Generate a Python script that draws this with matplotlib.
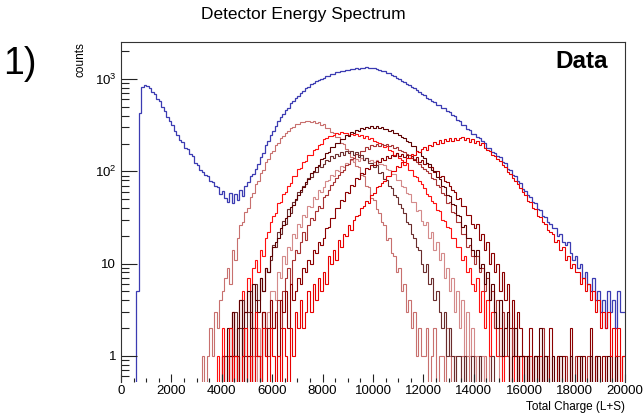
import numpy as np
import matplotlib
matplotlib.use("Agg")
import matplotlib.pyplot as plt
from matplotlib.ticker import FixedLocator, FixedFormatter, LogLocator, NullFormatter, MultipleLocator

plt.rcParams['font.family'] = ['Liberation Sans', 'DejaVu Sans']
plt.rcParams['mathtext.fontset'] = 'custom'
plt.rcParams['mathtext.rm'] = 'Liberation Sans'
plt.rcParams['mathtext.it'] = 'Liberation Sans:italic'

# ---------------- data ----------------
bin_edges = np.arange(0, 20001, 100)   # Total Charge bins (width 100)

blue_counts = [
    0,0,0,0,0,0,5,430,815,868,842,806,731,690,612,575,493,455,388,352,
    316,272,246,221,208,181,176,154,146,124,116,104,99,92,88,79,77,70,68,57,
    61,51,46,58,45,57,49,63,54,69,77,88,94,106,120,143,158,192,212,248,
    274,306,352,390,415,466,490,545,574,622,655,706,735,795,826,876,900,946,970,1006,
    1024,1066,1084,1126,1142,1178,1183,1218,1224,1246,1252,1278,1274,1305,1298,1326,1312,1334,1316,1302,
    1312,1284,1262,1236,1214,1176,1154,1104,1086,1036,1004,955,934,884,866,815,795,754,726,684,
    664,626,604,574,566,528,520,490,480,448,444,410,394,364,350,320,314,290,280,255,
    252,236,231,214,204,181,178,161,158,146,142,125,122,107,104,92,88,78,74,64,
    61,55,53,46,45,39,38,33,32,28,27,24,24,20,21,17,16,17,13,11,
    12,9,10,7,8,6,5,7,4,5,3,4,2,5,3,4,2,5,3,3,
]

rosy_counts = [
    0,0,0,0,0,0,0,0,0,0,0,0,0,0,0,0,0,0,0,0,
    0,0,0,0,0,0,0,0,0,0,0,0,1,0,1,2,1,3,2,4,
    5,7,9,6,14,11,19,26,28,36,40,52,58,72,78,96,104,126,135,158,
    168,192,203,228,240,262,274,296,300,322,328,342,338,352,348,344,350,336,338,318,
    326,296,291,266,263,238,233,204,199,176,168,144,139,115,111,91,88,69,67,51,
    49,39,35,28,26,18,19,13,12,8,9,5,6,3,4,2,3,1,2,1,
    1,2,0,1,2,0,1,1,0,2,1,0,1,0,0,1,0,1,0,0,
    1,0,0,0,1,0,0,0,0,0,0,0,0,0,0,0,0,0,0,0,
    0,0,0,0,0,0,0,0,0,0,0,0,0,0,0,0,0,0,0,0,
    0,0,0,0,0,0,0,0,0,0,0,0,0,0,0,0,0,0,0,0,
]

bright_counts = [
    0,0,0,0,0,0,0,0,0,0,0,0,0,0,0,0,0,0,0,0,
    0,0,0,0,0,0,0,0,0,0,0,0,0,0,0,0,0,0,1,0,
    2,1,1,0,3,1,2,4,5,3,7,5,9,11,8,14,12,19,22,28,
    33,35,45,46,57,59,69,74,88,90,106,108,127,130,151,152,170,176,194,199,
    222,230,240,244,250,262,254,266,258,262,250,256,248,252,240,246,232,240,222,228,
    214,208,202,196,184,186,172,168,152,156,140,134,118,122,104,102,90,86,78,72,
    66,57,54,48,45,38,37,30,29,25,24,19,19,15,15,11,12,8,9,6,
    5,7,3,5,2,4,1,3,2,1,2,0,1,1,0,2,0,1,0,1,
    0,0,1,0,0,0,1,0,0,0,0,0,0,0,0,0,0,0,0,0,
    0,0,0,0,0,0,0,0,0,0,0,0,0,0,0,0,0,0,0,0,
]

high_counts = [
    0,0,0,0,0,0,0,0,0,0,0,0,0,0,0,0,0,0,0,0,
    0,0,0,0,0,0,0,0,0,0,0,0,0,0,0,0,0,0,0,0,
    1,0,0,2,0,1,0,0,1,2,0,1,0,3,1,0,2,1,0,2,
    1,0,1,0,2,1,0,2,1,3,2,4,2,3,5,3,6,4,7,5,
    8,6,12,10,14,11,18,15,21,20,26,23,30,33,34,40,42,48,45,55,
    58,67,70,74,79,89,90,101,100,113,111,126,127,138,139,154,150,166,162,176,
    182,172,194,188,206,198,216,203,224,212,230,214,232,218,228,236,216,230,210,222,
    204,214,192,202,180,172,166,152,148,136,128,116,110,98,94,84,78,72,66,60,
    55,48,47,40,39,33,32,28,27,23,22,21,17,18,14,15,11,12,9,10,
    8,8,6,7,5,6,4,5,3,4,2,3,2,3,1,2,1,2,0,1,
]

maroon_counts = [
    0,0,0,0,0,0,0,0,0,0,0,0,0,0,0,0,0,0,0,0,
    0,0,0,0,0,0,0,0,0,0,0,0,0,0,0,0,0,0,0,0,
    1,0,2,1,3,1,2,4,1,3,5,2,6,4,3,7,5,9,8,12,
    15,17,19,24,26,31,33,41,43,50,55,62,68,77,83,95,100,112,118,135,
    140,158,160,182,184,204,203,226,224,246,244,264,260,280,276,292,285,301,294,306,
    296,308,291,299,288,290,276,278,262,260,250,238,231,214,210,190,186,168,163,146,
    140,124,120,104,101,86,83,69,67,55,54,44,43,34,33,25,26,19,19,14,
    12,14,9,10,6,8,4,6,3,2,4,1,2,3,0,1,2,0,1,1,
    0,1,0,0,1,0,2,0,1,0,0,1,0,0,1,0,0,0,1,0,
    0,0,1,0,0,0,1,0,0,1,0,0,0,1,0,0,1,0,0,0,
]

brown_counts = [
    0,0,0,0,0,0,0,0,0,0,0,0,0,0,0,0,0,0,0,0,
    0,0,0,0,0,0,0,0,0,0,0,0,0,0,0,0,0,0,0,0,
    0,1,0,2,1,3,0,2,4,1,3,5,2,6,4,7,5,9,8,11,
    16,15,22,21,29,27,39,35,47,49,59,60,70,72,84,86,99,98,113,112,
    120,134,130,146,138,154,146,161,150,166,158,168,152,162,144,152,134,140,122,124,
    110,116,95,99,82,80,69,66,55,52,44,40,35,28,27,21,19,15,14,10,
    8,10,6,7,4,5,3,2,3,1,2,1,0,1,1,0,1,0,0,1,
    0,0,1,0,0,0,0,1,0,0,0,0,0,0,0,0,0,0,0,0,
    0,0,0,0,0,0,0,0,0,0,0,0,0,0,0,0,0,0,0,0,
    0,0,0,0,0,0,0,0,0,0,0,0,0,0,0,0,0,0,0,0,
]

brickred_counts = [
    0,0,0,0,0,0,0,0,0,0,0,0,0,0,0,0,0,0,0,0,
    0,0,0,0,0,0,0,0,0,0,0,0,0,0,0,0,0,0,0,0,
    0,0,0,1,0,0,1,0,2,0,1,0,2,1,1,0,3,2,1,2,
    2,3,4,2,5,7,9,6,11,14,13,17,22,18,26,31,30,37,42,40,
    52,56,62,71,76,84,91,98,104,118,120,136,138,154,150,168,164,182,176,192,
    186,196,190,200,192,198,188,194,180,184,172,168,162,154,150,140,136,126,120,112,
    106,100,96,84,82,71,68,58,56,45,46,36,35,28,28,21,21,15,16,12,
    10,12,8,9,5,7,4,5,2,4,1,3,2,1,0,2,1,0,1,1,
    0,1,0,0,1,0,0,2,0,1,0,0,0,1,0,0,1,0,0,0,
    1,0,0,0,0,1,0,0,1,0,0,0,1,0,0,0,0,1,0,0,
]

pink_counts = [
    0,0,0,0,0,0,0,0,0,0,0,0,0,0,0,0,0,0,0,0,
    0,0,0,0,0,0,0,0,0,0,0,0,0,0,0,0,0,0,0,0,
    0,0,0,0,0,0,0,0,0,0,0,0,1,0,2,1,3,2,3,5,
    5,4,8,7,12,10,15,14,21,19,27,25,34,32,42,41,52,50,62,60,
    68,78,80,92,90,102,101,114,111,124,119,132,126,136,130,140,132,138,130,134,
    127,131,120,121,116,106,104,93,94,80,81,70,68,58,57,47,47,37,38,29,
    26,28,19,22,14,17,11,13,7,9,5,7,3,5,2,4,1,3,1,2,
    0,1,0,1,0,0,1,0,0,0,1,0,0,0,0,0,0,0,0,0,
    0,0,0,0,0,0,0,0,0,0,0,0,0,0,0,0,0,0,0,0,
    0,0,0,0,0,0,0,0,0,0,0,0,0,0,0,0,0,0,0,0,
]

darkred_counts = [
    0,0,0,0,0,0,0,0,0,0,0,0,0,0,0,0,0,0,0,0,
    0,0,0,0,0,0,0,0,0,0,0,0,0,0,0,0,0,0,0,0,
    0,0,0,0,1,0,1,0,2,0,1,3,0,2,1,0,3,1,2,4,
    2,3,1,4,3,5,2,6,4,5,7,6,9,8,11,10,14,13,17,16,
    19,24,25,31,31,40,40,49,48,60,58,71,70,84,82,96,94,108,106,118,
    116,128,126,138,134,146,140,152,146,156,146,154,144,152,140,148,134,142,126,134,
    120,122,110,112,99,101,86,90,78,76,70,62,60,50,51,42,42,34,34,27,
    24,27,18,21,14,17,10,13,8,10,5,8,4,6,2,4,1,3,2,1,
    1,0,2,0,1,1,0,0,1,0,2,0,0,1,0,1,0,0,2,0,
    0,1,0,1,0,0,2,0,1,0,0,1,0,0,1,0,1,0,0,1,
]

red_series = [rosy_counts, pink_counts, bright_counts, brickred_counts,
              brown_counts, darkred_counts, maroon_counts, high_counts]
red_colors = ['#c8706e', '#d48a8a', '#ff1010', '#a83232',
              '#6b2d2d', '#8b0000', '#5c0000', '#e80000']

y_tick_values = [1, 10, 100, 1000]
y_tick_labels = ['1', '10', r'$\mathregular{10^{2}}$', r'$\mathregular{10^{3}}$']

# ---------------- figure ----------------
W, H = 644, 415
fig = plt.figure(figsize=(W / 100, H / 100), dpi=100)
ax = fig.add_axes([121 / W, 1 - 382 / H, 504 / W, 340 / H])

ax.stairs(blue_counts, bin_edges, color='#3b3bb2', lw=0.9, baseline=None)
for vals, col in zip(red_series, red_colors):
    ax.stairs(vals, bin_edges, color=col, lw=0.8, baseline=None)

ax.set_yscale('log')
ax.set_xlim(0, 20000)
ax.set_ylim(0.52, 2520)

ax.yaxis.set_major_locator(FixedLocator(y_tick_values))
ax.yaxis.set_major_formatter(FixedFormatter(y_tick_labels))
ax.yaxis.set_minor_locator(LogLocator(base=10, subs=np.arange(2, 10)))
ax.yaxis.set_minor_formatter(NullFormatter())
ax.xaxis.set_major_locator(MultipleLocator(2000))
ax.xaxis.set_minor_locator(MultipleLocator(500))

ax.tick_params(axis='y', which='major', direction='in', length=11.5, width=0.8,
               labelsize=9.5, pad=3.5, right=False, colors='#222222')
ax.tick_params(axis='y', which='minor', direction='in', length=5.8, width=0.8,
               right=False, colors='#222222')
ax.tick_params(axis='x', which='major', direction='in', length=5.5, width=0.8,
               labelsize=9.5, pad=2.5, top=False, colors='#222222')
ax.tick_params(axis='x', which='minor', direction='in', length=3, width=0.8,
               top=False, colors='#222222')
for lab in ax.get_xticklabels() + ax.get_yticklabels():
    lab.set_color('black')

for side in ['top', 'left', 'right']:
    ax.spines[side].set_color('#333333')
    ax.spines[side].set_linewidth(0.8)
ax.spines['bottom'].set_visible(False)

fig.text(303 / W, 1 - 15 / H, 'Detector Energy Spectrum', ha='center', va='center',
         fontsize=12.5)
fig.text(20 / W, 1 - 64 / H, '1)', ha='center', va='center', fontsize=27)
fig.text(80 / W, 1 - 42 / H, 'counts', rotation=90, ha='center', va='top', fontsize=8.5)
fig.text(608 / W, 1 - 61 / H, 'Data', ha='right', va='center', fontsize=17.5,
         fontweight='bold')
fig.text(625 / W, 1 - 407 / H, 'Total Charge (L+S)', ha='right', va='center',
         fontsize=8.5)

fig.savefig('out.png', dpi=100)
